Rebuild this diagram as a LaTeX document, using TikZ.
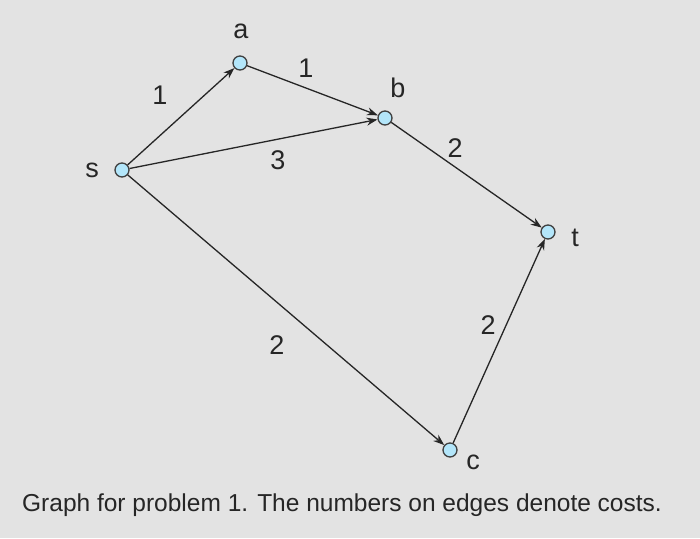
\documentclass[tikz,border=0pt]{standalone}
\usepackage{fontspec}
\setmainfont{Liberation Sans}
\usetikzlibrary{arrows.meta}
\begin{document}
\begin{tikzpicture}[x=1pt,y=-1pt,
  vert/.style={circle,draw=black!75,fill=cyan!30!white,minimum size=14pt,inner sep=0pt,line width=1.3pt},
  edge/.style={draw=black!85,line width=1.3pt,-{Stealth[length=11pt,width=8pt]}},
  lbl/.style={font=\fontsize{27}{30}\selectfont,text=black!85},
  cost/.style={font=\fontsize{27}{30}\selectfont,text=black!85}]
\fill[gray!22] (0,0) rectangle (700,538);
\useasboundingbox (0,0) rectangle (700,538);
\node[vert] (s) at (122,170) {};
\node[vert] (a) at (240,63) {};
\node[vert] (b) at (385,118) {};
\node[vert] (t) at (548,232) {};
\node[vert] (c) at (450,450) {};
\node[lbl] (ls) at (92,170) {s};
\node[lbl] (la) at (241,31) {a};
\node[lbl] (lb) at (398,88) {b};
\node[lbl] (lt) at (575,238) {t};
\node[lbl] (lc) at (473,462) {c};
\draw[edge] (s) -- (a);
\draw[edge] (a) -- (b);
\draw[edge] (s) -- (b);
\draw[edge] (b) -- (t);
\draw[edge] (s) -- (c);
\draw[edge] (c) -- (t);
\node[cost] (e1) at (160,95) {1};
\node[cost] (e2) at (306,68) {1};
\node[cost] (e3) at (278,160) {3};
\node[cost] (e4) at (455,148) {2};
\node[cost] (e5) at (277,345) {2};
\node[cost] (e6) at (488,325) {2};
\node[font=\fontsize{24.5}{26}\selectfont,text=black!85] (cap) at (342,505) {Graph for problem 1. The numbers on edges denote costs.};
\end{tikzpicture}
\end{document}
